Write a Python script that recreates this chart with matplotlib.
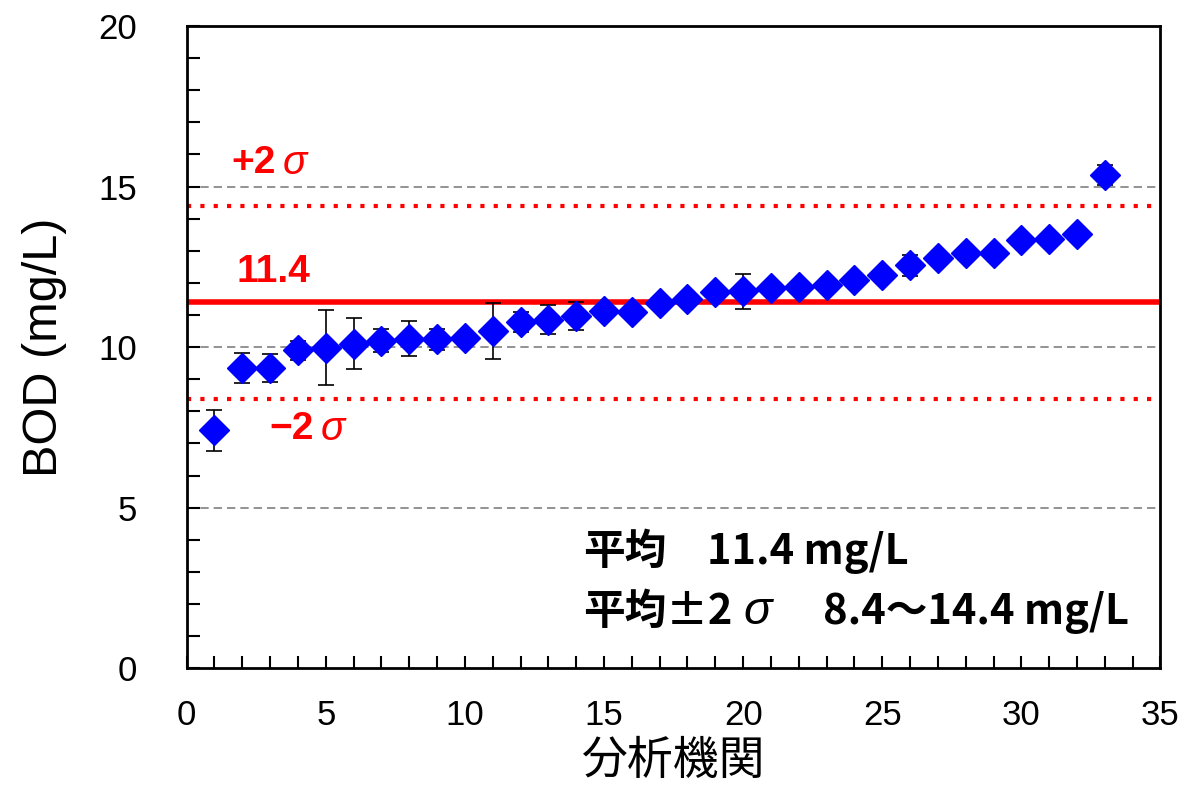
import numpy as np
import matplotlib.pyplot as plt
from matplotlib.ticker import MultipleLocator

plt.rcParams['font.family'] = ['Liberation Sans', 'Noto Sans CJK JP', 'DejaVu Sans']

# lab number, BOD result, error (half range)
labs = list(range(1, 34))
bod = [7.41, 9.35, 9.35, 9.90, 9.98, 10.11, 10.20, 10.26, 10.25, 10.29,
       10.51, 10.79, 10.86, 10.97, 11.13, 11.10, 11.39, 11.49, 11.71, 11.74,
       11.85, 11.88, 11.93, 12.09, 12.24, 12.55, 12.79, 12.94, 12.92, 13.33,
       13.36, 13.51, 15.36]
err = [0.63, 0.47, 0.45, 0.29, 1.17, 0.80, 0.35, 0.55, 0.33, 0.12,
       0.87, 0.32, 0.45, 0.44, 0.10, 0.10, 0.10, 0.10, 0.10, 0.55,
       0.10, 0.10, 0.10, 0.10, 0.10, 0.33, 0.10, 0.10, 0.10, 0.10,
       0.10, 0.10, 0.30]

mean_val = 11.4
lower_2s = 8.4
upper_2s = 14.4

fig = plt.figure(figsize=(11.89, 7.89), dpi=100)
ax = fig.add_axes([0.157, 0.153, 0.819, 0.814])

# gray dashed grid at majors
for g in [5, 10, 15]:
    ax.axhline(g, color='gray', linestyle=(0, (5, 3)), linewidth=1.2, zorder=1)

ax.axhline(mean_val, color='#ff0000', linewidth=4, zorder=2)
ax.axhline(upper_2s, color='#ff0000', linestyle=(0, (1, 2.2)), linewidth=3, zorder=2)
ax.axhline(lower_2s, color='#ff0000', linestyle=(0, (1, 2.2)), linewidth=3, zorder=2)

ax.errorbar(labs, bod, yerr=err, fmt='D', color='#0000ff', markersize=15,
            ecolor='black', elinewidth=1.2, capsize=6, capthick=1.2, zorder=3)

ax.set_xlim(0, 35)
ax.set_ylim(0, 20)
ax.xaxis.set_major_locator(MultipleLocator(5))
ax.xaxis.set_minor_locator(MultipleLocator(1))
ax.yaxis.set_major_locator(MultipleLocator(5))
ax.yaxis.set_minor_locator(MultipleLocator(1))
ax.tick_params(which='both', direction='in', labelsize=25, colors='black', width=1.5)
ax.tick_params(which='both', length=9)
ax.tick_params(axis='x', pad=22)
ax.tick_params(axis='y', pad=36)
for s in ax.spines.values():
    s.set_linewidth(2)

ax.set_ylabel('BOD (mg/L)', fontsize=35, labelpad=22)
ax.set_xlabel('分析機関', fontsize=33, labelpad=6)

red_kw = dict(color='#ff0000', fontsize=28, fontweight='bold', va='center')
sig_kw = dict(color='#ff0000', fontsize=29, style='italic', va='center')
ax.text(1.62, 15.73, '+2', **red_kw)
ax.text(3.45, 15.73, 'σ', **sig_kw)
ax.text(1.8, 12.34, '11.4', **red_kw)
ax.text(2.98, 7.45, '−2', **red_kw)
ax.text(4.8, 7.45, 'σ', **sig_kw)

note_kw = dict(fontsize=30, color='black', fontweight='bold', va='center',
               family=['Noto Sans CJK JP', 'DejaVu Sans'])
ax.text(14.25, 3.61, '平均', **note_kw)
ax.text(18.7, 3.61, '11.4 mg/L', **note_kw)
ax.text(14.25, 1.74, '平均±2', **note_kw)
ax.text(20.0, 1.74, 'σ', fontsize=34, color='black', style='italic', va='center',
        family=['Liberation Sans', 'DejaVu Sans'])
ax.text(22.88, 1.74, '8.4〜14.4 mg/L', **note_kw)

fig.savefig('out.png', dpi=100)
